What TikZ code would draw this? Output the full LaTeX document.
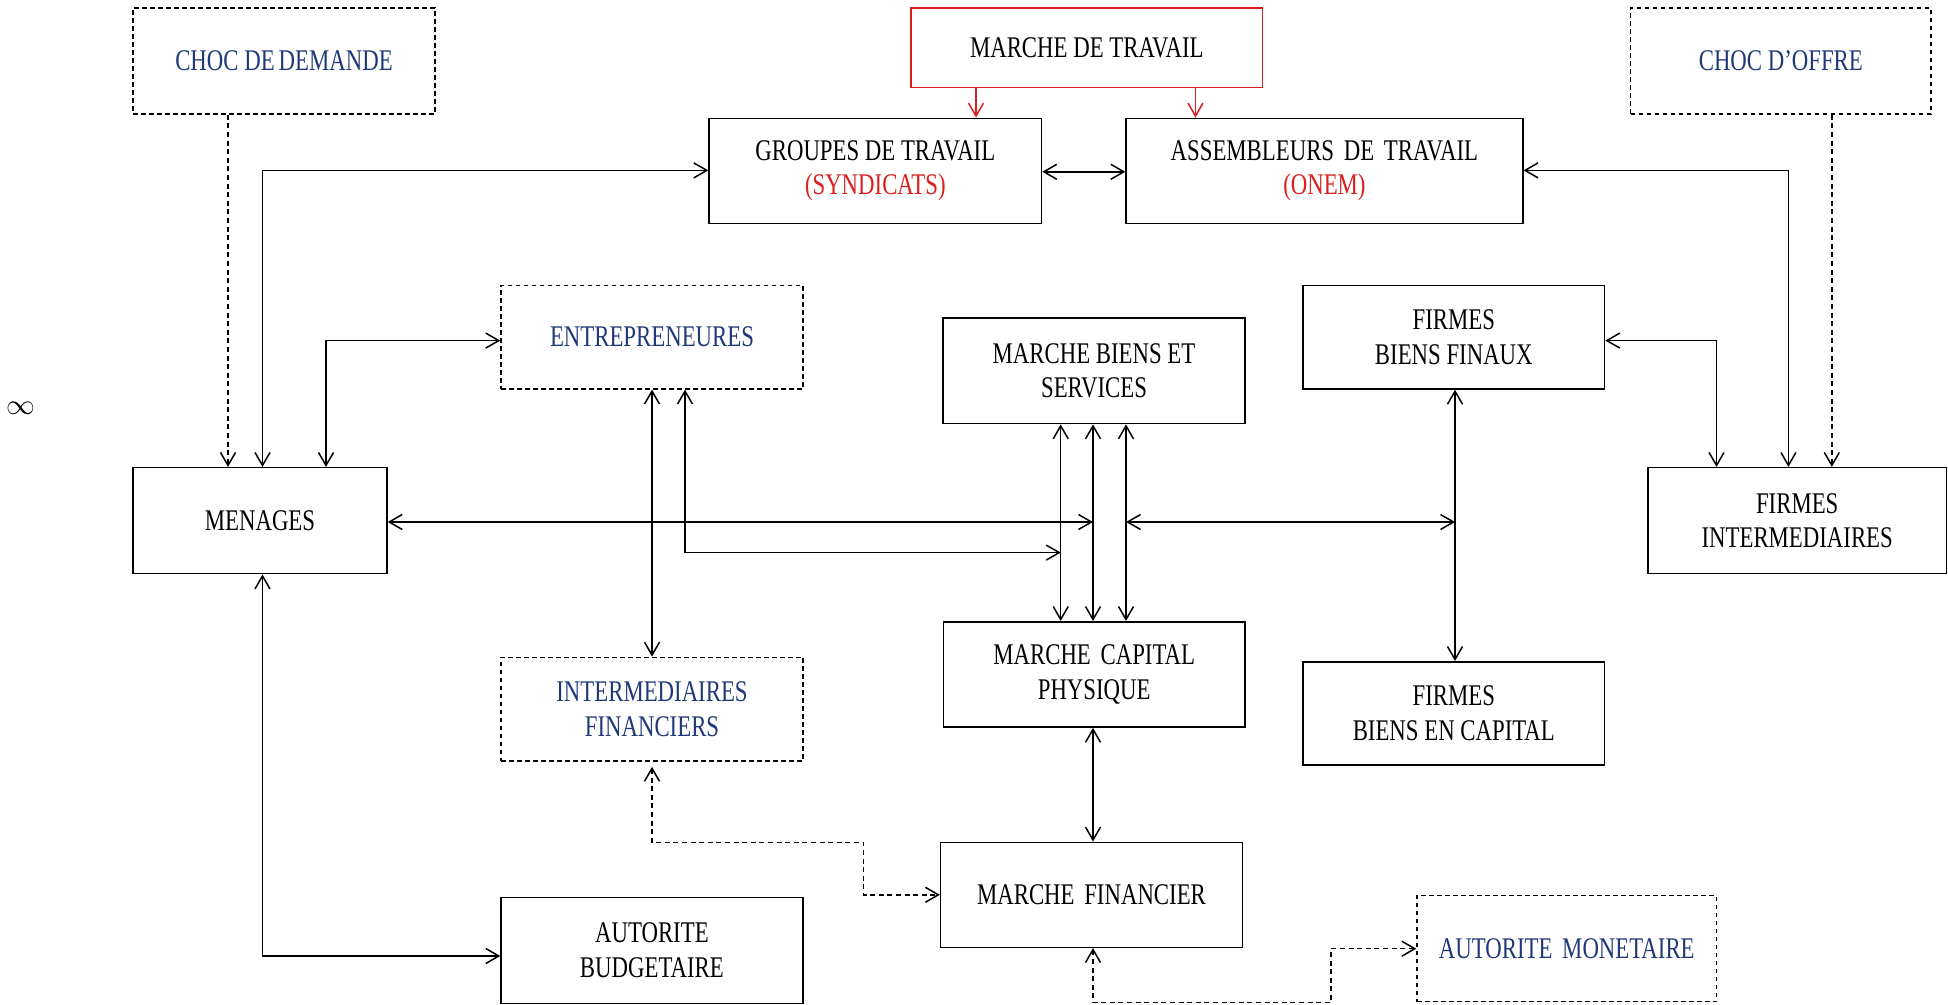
\documentclass[tikz,border=0pt]{standalone}
\usepackage{fontspec}
\setmainfont{Liberation Serif}[FakeStretch=0.76]
\usetikzlibrary{arrows.meta,calc}
\definecolor{navy}{RGB}{31,56,120}
\definecolor{redc}{RGB}{220,30,30}
\newcommand{\xs}{\hspace{2pt}}
\begin{document}
\begin{tikzpicture}[x=0.5pt,y=-0.5pt,
  every node/.style={font=\fontsize{15pt}{17.2pt}\selectfont, inner sep=0pt, align=center},
  box/.style={draw, line width=0.75pt, rectangle},
  dbox/.style={box, dash pattern=on 2.3pt off 1.7pt, text=navy},
  rbox/.style={box, draw=redc},
  >={Straight Barb[length=6.5pt,width=7.5pt]},
  conn/.style={line width=0.75pt},
  dsh/.style={line width=0.75pt, dash pattern=on 2.5pt off 1.8pt},
  redarr/.style={line width=0.75pt, draw=redc}
]
\useasboundingbox (0,0) rectangle (1948,1005);

% nodes
\node[dbox, minimum width=151pt, minimum height=53pt] (chocD) at (284,61) {CHOC DE\xs DEMANDE};
\node[rbox, minimum width=175.75pt, minimum height=39.8pt] (marcheT) at (1086.8,47.8) {MARCHE DE TRAVAIL};
\node[dbox, minimum width=150.2pt, minimum height=53pt] (chocO) at (1780.8,61) {CHOC D’OFFRE};
\node[box, minimum width=166.25pt, minimum height=52.6pt] (groupes) at (875.3,170.9) {GROUPES DE TRAVAIL\\\textcolor{redc}{(SYNDICATS)}};
\node[box, minimum width=198.35pt, minimum height=52.6pt] (assemb) at (1324.4,170.9) {ASSEMBLEURS\xs\ DE\xs\ TRAVAIL\\\textcolor{redc}{(ONEM)}};
\node[dbox, minimum width=151pt, minimum height=51.65pt] (entre) at (652,337.2) {ENTREPRENEURES};
\node[box, minimum width=151pt, minimum height=52.8pt] (mbiens) at (1094,370.8) {MARCHE BIENS ET\\SERVICES};
\node[box, minimum width=150.75pt, minimum height=51.75pt] (ffinaux) at (1453.8,337.2) {FIRMES\\BIENS FINAUX};
\node[box, minimum width=127pt, minimum height=53pt] (men) at (260,520.7) {MENAGES};
\node[box, minimum width=149.25pt, minimum height=53pt] (finter) at (1797.2,520.7) {FIRMES\\INTERMEDIAIRES};
\node[box, minimum width=150.85pt, minimum height=52.65pt] (mcap) at (1094.2,674.4) {MARCHE\xs\ CAPITAL\\PHYSIQUE};
\node[dbox, minimum width=151pt, minimum height=51.85pt] (inter) at (652,709.2) {INTERMEDIAIRES\\FINANCIERS};
\node[box, minimum width=150.75pt, minimum height=51.65pt] (fcap) at (1453.8,713.4) {FIRMES\\BIENS EN CAPITAL};
\node[box, minimum width=150.9pt, minimum height=52.5pt] (mfin) at (1091.5,894.8) {MARCHE\xs\ FINANCIER};
\node[box, minimum width=150.85pt, minimum height=53pt] (autB) at (651.9,950.3) {AUTORITE\\BUDGETAIRE};
\node[dbox, minimum width=149.75pt, minimum height=53pt] (autM) at (1566.8,948.7) {AUTORITE\xs\ MONETAIRE};
\node[font=\fontsize{15pt}{15pt}\selectfont] (inf) at (21,408.7) {$\infty$};

% lanes
\coordinate (xa) at (228,0);
\coordinate (xb) at (262.5,0);
\coordinate (xc) at (326,0);
\coordinate (xd) at (652,0);
\coordinate (xe) at (685,0);
\coordinate (xf) at (1060.7,0);
\coordinate (xg) at (1093,0);
\coordinate (xh) at (1126,0);
\coordinate (xi) at (1455,0);
\coordinate (xj) at (1716.5,0);
\coordinate (xk) at (1788.4,0);
\coordinate (xl) at (1831.8,0);
\coordinate (xm) at (976,0);
\coordinate (xn) at (1195.5,0);
\coordinate (xo) at (863.4,0);
\coordinate (xp) at (1331,0);
\coordinate (ya) at (0,170.4);
\coordinate (yg) at (0,171.8);
\coordinate (yb) at (0,340.6);
\coordinate (yc) at (0,522);
\coordinate (yd) at (0,552.6);
\coordinate (ye) at (0,956);
\coordinate (yf) at (0,842.3);
\coordinate (yh) at (0,1002.3);

% connectors
\draw[dsh,->] (chocD.south -| xa) -- (men.north -| xa);
\draw[conn,<->] (men.north -| xb) |- (groupes.west |- ya);
\draw[conn,<->] (men.north -| xc) |- (entre.west |- yb);
\draw[conn,<->] (men.east |- yc) -- (xg |- yc);
\draw[conn,<->] (entre.south -| xe) |- (xf |- yd);
\draw[conn,<->] (entre.south -| xd) -- (inter.north -| xd);
\draw[conn,<->] (mbiens.south -| xf) -- (mcap.north -| xf);
\draw[conn,<->] (mbiens.south -| xg) -- (mcap.north -| xg);
\draw[conn,<->] (mbiens.south -| xh) -- (mcap.north -| xh);
\draw[conn,<->] (xh |- yc) -- (xi |- yc);
\draw[conn,<->] (ffinaux.south -| xi) -- (fcap.north -| xi);
\draw[conn,<->] (finter.north -| xj) |- (ffinaux.east |- yb);
\draw[conn,<->] (finter.north -| xk) |- (assemb.east |- ya);
\draw[dsh,->] (chocO.south -| xl) -- (finter.north -| xl);
\draw[redarr,->] (marcheT.south -| xm) -- (groupes.north -| xm);
\draw[redarr,->] (marcheT.south -| xn) -- (assemb.north -| xn);
\draw[conn,<->] (groupes.east |- yg) -- (assemb.west |- yg);
\draw[conn,<->] (men.south -| xb) |- (autB.west |- ye);
\draw[conn,<->] (mcap.south -| xg) -- (mfin.north -| xg);
\draw[dsh,<->,shorten <=2.5pt] (inter.south -| xd) -- (xd |- yf) -- (xo |- yf) -- (xo |- mfin.west) -- (mfin.west);
\draw[dsh,<->] (mfin.south -| xg) -- (xg |- yh) -- (xp |- yh) -- (xp |- autM.west) -- (autM.west);
\end{tikzpicture}
\end{document}
